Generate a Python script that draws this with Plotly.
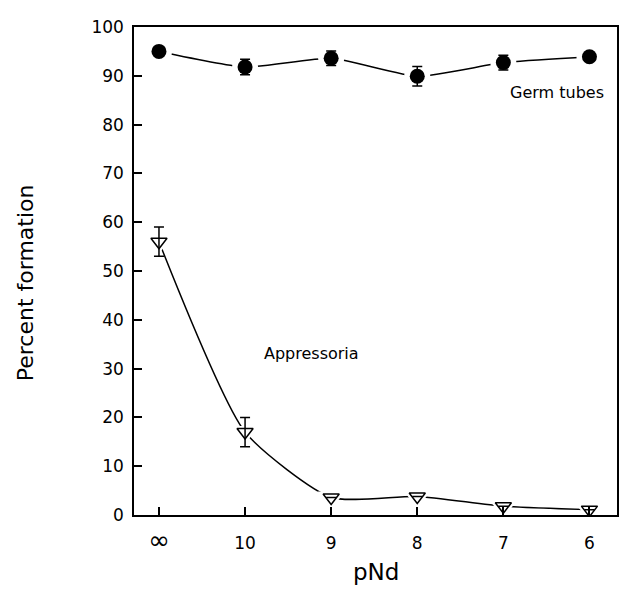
import plotly.graph_objects as go

pnd_labels = ["∞", "10", "9", "8", "7", "6"]
germ_tubes = [95.0, 91.8, 93.6, 89.9, 92.7, 93.9]
germ_err = [0.0, 1.6, 1.5, 2.0, 1.5, 0.0]
appressoria = [56.0, 17.0, 3.6, 3.8, 1.8, 1.1]
appr_err = [3.0, 3.0, 0.0, 0.0, 0.0, 0.0]

x = list(range(len(pnd_labels)))
FONT = "DejaVu Sans, Liberation Sans, sans-serif"

# page body has an 8px margin; compensate so the plot frame lands where the reference has it
OFF = 8
W, H = 628 - OFF, 589 - OFF
L, R, T, B = 134 - OFF, 9, 17 - OFF, 74

# the infinity sign is drawn larger, as in the reference
tick_text = [f"<span style='font-size:26px'>{t}</span>" if t == "∞" else t for t in pnd_labels]

fig = go.Figure()

# connecting curves
fig.add_trace(go.Scatter(x=x, y=germ_tubes, mode="lines",
                         line=dict(color="black", width=1.5, shape="spline", smoothing=0.5),
                         hoverinfo="skip", showlegend=False))
fig.add_trace(go.Scatter(x=x, y=appressoria, mode="lines",
                         line=dict(color="black", width=1.5, shape="spline", smoothing=0.6),
                         hoverinfo="skip", showlegend=False))
# white masks to create gaps around markers
fig.add_trace(go.Scatter(x=x, y=germ_tubes, mode="markers",
                         marker=dict(symbol="circle", size=26, color="white"),
                         hoverinfo="skip", showlegend=False))
fig.add_trace(go.Scatter(x=x, y=appressoria, mode="markers",
                         marker=dict(symbol="triangle-down", size=24, color="white"),
                         hoverinfo="skip", showlegend=False))
# markers with error bars
fig.add_trace(go.Scatter(x=x, y=germ_tubes, mode="markers", name="Germ tubes",
                         marker=dict(symbol="circle", size=15, color="black"),
                         error_y=dict(type="data", array=germ_err, color="black",
                                      thickness=1.5, width=5),
                         showlegend=False))
fig.add_trace(go.Scatter(x=x, y=appressoria, mode="markers", name="Appressoria",
                         marker=dict(symbol="triangle-down-open", size=14, color="black",
                                     line=dict(width=1.5, color="black")),
                         error_y=dict(type="data", array=appr_err, color="black",
                                      thickness=1.5, width=5),
                         showlegend=False))

fig.update_layout(
    width=W, height=H,
    margin=dict(l=L, r=R, t=T, b=B, pad=0),
    paper_bgcolor="white", plot_bgcolor="white",
    font=dict(family=FONT, color="black", size=16),
    xaxis=dict(range=[-0.29, 5.32], tickmode="array", tickvals=x, ticktext=tick_text,
               ticks="inside", ticklen=8, tickwidth=1.5, tickcolor="black",
               showline=True, linecolor="black", linewidth=1.5, mirror=True,
               showgrid=False, zeroline=False, tickfont=dict(size=17),
               ticklabelstandoff=12),
    yaxis=dict(range=[0, 100], tickmode="array", tickvals=list(range(0, 101, 10)),
               ticks="inside", ticklen=8, tickwidth=1.5, tickcolor="black",
               showline=True, linecolor="black", linewidth=1.5, mirror=True,
               showgrid=False, zeroline=False, tickfont=dict(size=17),
               ticklabelstandoff=5),
)

plot_w = W - L - R
plot_h = H - T - B


def px(xp):
    return (xp - 134) / plot_w


def py(yp):
    return (515 - yp) / plot_h


fig.update_layout(annotations=[
    dict(text="Germ tubes", x=4.62, y=86.5, xref="x", yref="y", showarrow=False,
         font=dict(size=16)),
    dict(text="Appressoria", x=1.77, y=33, xref="x", yref="y", showarrow=False,
         font=dict(size=16)),
    dict(text="Percent formation", x=px(25), y=py(278), xref="paper", yref="paper",
         showarrow=False, textangle=-90, font=dict(size=22),
         xanchor="center", yanchor="middle"),
    dict(text="pNd", x=px(377), y=py(573), xref="paper", yref="paper", showarrow=False,
         font=dict(size=23), xanchor="center", yanchor="middle"),
])

fig.write_html("out.html")
